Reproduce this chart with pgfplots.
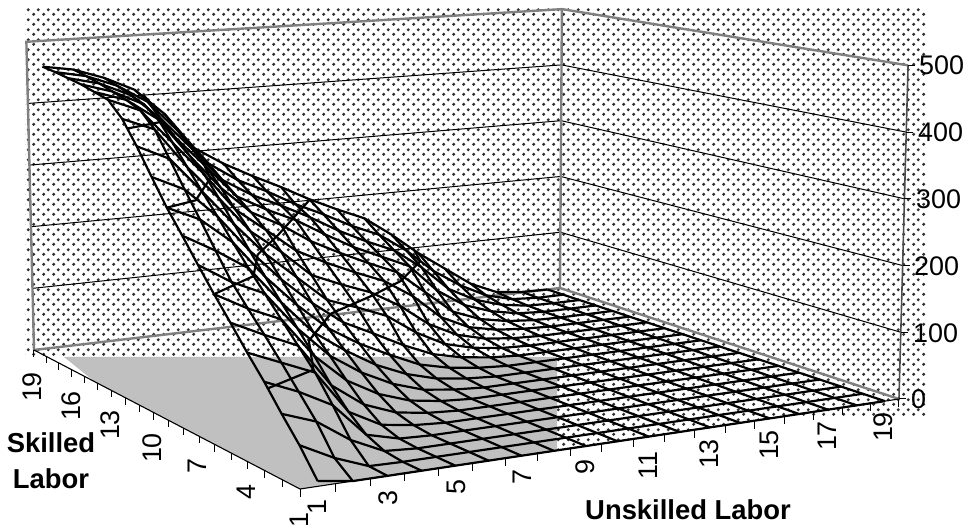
\documentclass[border=0pt]{standalone}
\usepackage{pgfplots}
\usepackage{pgfplotstable}
\usepackage{fontspec}
\setmainfont{Liberation Sans}
\pgfplotsset{compat=1.18}
\usetikzlibrary{patterns}
\pgfdeclarepatternformonly{exdots}{\pgfqpoint{0bp}{0bp}}{\pgfqpoint{10bp}{10bp}}{\pgfqpoint{10bp}{10bp}}{%
  \pgfpathcircle{\pgfqpoint{4bp}{3bp}}{1.8bp}%
  \pgfpathcircle{\pgfqpoint{9bp}{8bp}}{1.8bp}%
  \pgfusepath{fill}}
\definecolor{wallgrey}{HTML}{808080}
\definecolor{floorgrey}{HTML}{C0C0C0}
\definecolor{dotc}{HTML}{303030}
\pgfplotstableread{
v 1 2 3 4 5 6 7 8 9 10 11 12 13 14 15 16 17 18 19
1 7 0 0 0 0 0 0 0 0 0 0 0 0 0 0 0 0 0 0
2 43 19 1 0 0 0 0 0 0 0 0 0 0 0 0 0 0 0 0
3 74 57 25 3 0 0 0 0 0 0 0 0 0 0 0 0 0 0 0
4 107 87 62 14 2 0 0 0 0 0 0 0 0 0 0 0 0 0 0
5 137 117 97 35 10 3 0 0 0 0 0 0 0 0 0 0 0 0 0
6 169 146 125 62 28 10 3 0 0 0 0 0 0 0 0 0 0 0 0
7 200 174 153 94 52 26 10 3 0 0 0 0 0 0 0 0 0 0 0
8 233 203 181 124 78 47 24 9 3 0 0 0 0 0 0 0 0 0 0
9 267 240 209 153 103 70 42 22 9 3 0 0 0 0 0 0 0 0 0
10 300 278 239 182 134 93 64 41 20 9 3 0 0 0 0 0 0 0 0
11 338 315 270 213 164 122 87 64 40 20 9 3 0 0 0 0 0 0 0
12 377 354 300 245 194 153 112 95 76 44 20 8 2 0 0 0 0 0 0
13 412 392 330 277 221 184 142 122 104 77 42 19 7 2 0 0 0 0 0
14 435 415 361 307 247 210 172 148 127 108 78 38 16 6 2 0 0 0 0
15 441 425 391 329 274 230 205 174 150 128 108 70 32 14 5 1 0 0 0
16 447 432 408 351 300 248 222 200 172 146 125 104 58 28 12 3 0 0 0
17 451 439 417 374 322 267 238 216 192 165 142 122 88 46 22 8 1 0 0
18 455 445 426 396 344 287 255 232 206 184 160 140 108 68 38 15 3 0 0
19 458 450 433 410 366 305 275 250 227 202 180 160 127 90 58 26 6 1 0
}\Zv
\pgfplotstabletranspose[colnames from=v,input colnames to=u]\Zu{\Zv}
\pgfplotsset{/pgf/declare function={
  pw(\u,\v)=1+0.12848*(\u-0.5)/19+0.22159*(\v-1)/18;
  fx(\u,\v)=(714.5*(\u-0.5)/19-258.47*(\v-1)/18+300)/pw(\u,\v);
  fy(\u,\v)=(-38.74*(\u-0.5)/19-61.44*(\v-1)/18+489)/pw(\u,\v);
  hh(\u,\v,\z)=376.5*\z/500/pw(\u,\v);
  px(\u,\v,\z)=fx(\u,\v)+hh(\u,\v,\z)*(fx(\u,\v)-445)*0.00006;
  py(\u,\v,\z)=hh(\u,\v,\z)-fy(\u,\v);
}}
\pgfplotsset{table/proj/.style={x expr={px(\thisrow{u},\thisrow{v},\thisrow{z})},y expr={py(\thisrow{u},\thisrow{v},\thisrow{z})}}}
\newcommand{\tl}{\fontsize{27}{27}\selectfont}
\newcommand{\ttl}{\fontsize{27.5}{27.5}\selectfont\bfseries}
\newcommand{\zl}[3]{\node[anchor=west,inner sep=0pt] at (axis cs:#2,-#3) {\tl #1};}
\newcommand{\rl}[3]{\node[rotate=90,inner sep=0pt] at (axis cs:#2,-#3) {\tl #1};}
\begin{document}
\begin{tikzpicture}
\path[use as bounding box] (0,0) rectangle (968bp,527bp);
\begin{axis}[at={(0,0)},anchor=south west,x=1bp,y=1bp,xmin=0,xmax=968,ymin=-527,ymax=0,hide axis,clip=false,
  empty line=jump,
  meshl/.style={black,line width=2.2bp,line join=round,no markers,forget plot},
  ]
% dotted background and grey floor
\addplot[draw=none,pattern=exdots,pattern color=dotc,forget plot] coordinates {(25,-8)(926,-8)(926,-416)(790,-416)(557,-450)(557,-357)(25,-357)} -- cycle;
\addplot[draw=none,fill=floorgrey,forget plot] coordinates {(64,-357)(557,-357)(557,-450.4)(300,-489)(95,-382)} -- cycle;
% wall gridlines
\addplot[black,line width=1bp,no markers,forget plot] table[proj] {
u v z
0.5 19 100
19.5 19 100
19.5 1 100

0.5 19 200
19.5 19 200
19.5 1 200

0.5 19 300
19.5 19 300
19.5 1 300

0.5 19 400
19.5 19 400
19.5 1 400
};
% wall frame
\addplot[wallgrey,line width=2.4bp,no markers,forget plot] table[proj] {
u v z
0.5 19 0
0.5 19 500
19.5 19 500
19.5 1 500

19.5 19 500
19.5 19 0

0.5 19 0
19.5 19 0
19.5 1 0
};
% floor front edges
\addplot[black,line width=1.1bp,no markers,forget plot] table[proj] {
u v z
0.5 19 0
0.5 1 0
19.5 1 0
};
% vertical axis
\addplot[black!70,line width=1.6bp,no markers,forget plot] table[proj] {
u v z
19.5 1 0
19.5 1 500
};
% ticks, d = pixel offset
\addplot[black,line width=1bp,no markers,forget plot] table[x expr={px(19.5,1,\thisrow{z})+\thisrow{d}},y expr={py(19.5,1,\thisrow{z})}] {
z d
0 0
0 7

100 0
100 7

200 0
200 7

300 0
300 7

400 0
400 7

500 0
500 7
};
\addplot[black,line width=1bp,no markers,forget plot] table[x expr={px(\thisrow{u},1,0)},y expr={py(\thisrow{u},1,0)-\thisrow{d}}] {
u d
0.5 0
0.5 8

1.5 0
1.5 8

2.5 0
2.5 8

3.5 0
3.5 8

4.5 0
4.5 8

5.5 0
5.5 8

6.5 0
6.5 8

7.5 0
7.5 8

8.5 0
8.5 8

9.5 0
9.5 8

10.5 0
10.5 8

11.5 0
11.5 8

12.5 0
12.5 8

13.5 0
13.5 8

14.5 0
14.5 8

15.5 0
15.5 8

16.5 0
16.5 8

17.5 0
17.5 8

18.5 0
18.5 8

19.5 0
19.5 8
};
\addplot[black,line width=1bp,no markers,forget plot] table[x expr={px(0.5,\thisrow{v},0)},y expr={py(0.5,\thisrow{v},0)-\thisrow{d}}] {
v d
1 0
1 8

2 0
2 7

3 0
3 7

4 0
4 7

5 0
5 7

6 0
6 7

7 0
7 7

8 0
8 7

9 0
9 7

10 0
10 7

11 0
11 7

12 0
12 7

13 0
13 7

14 0
14 7

15 0
15 7

16 0
16 7

17 0
17 7

18 0
18 7

19 0
19 7
};
% surface mesh
\pgfplotsinvokeforeach{1,...,19}{
  \addplot[meshl] table[x expr={px(#1,\thisrow{v},\thisrow{#1})},y expr={py(#1,\thisrow{v},\thisrow{#1})}] {\Zv};
  \addplot[meshl] table[x expr={px(\thisrow{u},#1,\thisrow{#1})},y expr={py(\thisrow{u},#1,\thisrow{#1})}] {\Zu};
}
% band boundaries of the surface at 100, 200, 300, 400
\addplot[meshl] table[proj] {
u v z
1 3.8 100
3 5.1 100
4.5 8.3 100
6.7 11.2 100
9 12.9 100
10.8 14.4 100
12.9 16.9 100
13.8 19 100

1 7 200
3 8.7 200
4.5 11.5 200
6.4 14 200
10 19 200

1 10 300
2.2 10.7 300
4.2 14 300
6.1 19 300

1 12.6 400
2.3 13.3 400
3.2 15.5 400
4.3 19 400
};
% labels
\zl{500}{919}{65}\zl{400}{918}{132}\zl{300}{916}{199}\zl{200}{914}{266}\zl{100}{913}{333}\zl{0}{911}{399}
\rl{1}{317}{507}\rl{3}{388}{498}\rl{5}{456}{487}\rl{7}{522}{477}\rl{9}{585}{467}\rl{11}{648}{466}\rl{13}{709}{454}\rl{15}{769}{445}\rl{17}{827}{436}\rl{19}{883}{427}
\rl{19}{32}{387}\rl{16}{71}{406}\rl{13}{110}{425}\rl{10}{152}{448}\rl{7}{197}{466}\rl{4}{246}{492}\rl{1}{299}{520}
\node[inner sep=0pt] at (axis cs:51,-443) {\ttl Skilled};
\node[inner sep=0pt] at (axis cs:51,-479) {\ttl Labor};
\node[inner sep=0pt] at (axis cs:688,-510) {\ttl Unskilled Labor};
\end{axis}
\end{tikzpicture}
\end{document}
